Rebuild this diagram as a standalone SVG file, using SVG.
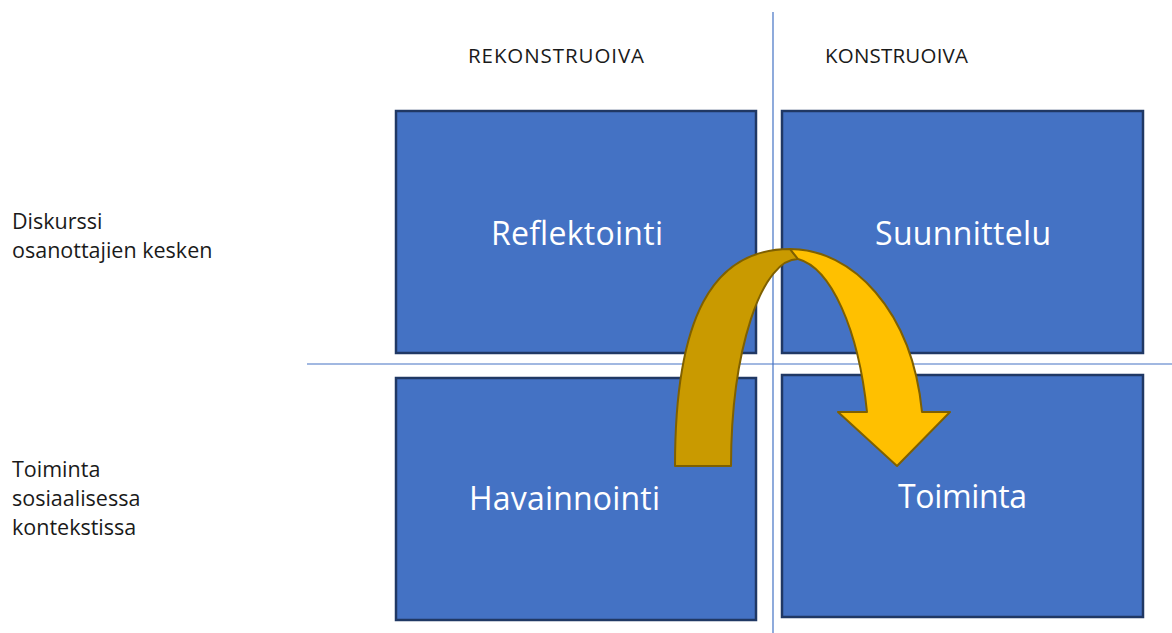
<svg xmlns="http://www.w3.org/2000/svg" width="1172" height="633" viewBox="0 0 1172 633">
<style>
.box{fill:#4472C4;stroke:#203864;stroke-width:2.5}
.axis{stroke:#4472C4;stroke-width:1.2;fill:none}
.lbl{font-family:"Open Sans","Liberation Sans",sans-serif;fill:#1a1a1a}
.hdr{font-size:20.5px}
.side{font-size:21.5px}
.in{font-family:"Open Sans","Liberation Sans",sans-serif;font-size:32px;fill:#ffffff}
.dark{fill:#C99A00;stroke:#7F6000;stroke-width:2;stroke-linejoin:round}
.light{fill:#FFC000;stroke:#7F6000;stroke-width:2;stroke-linejoin:round}
</style>
<rect width="1172" height="633" fill="#ffffff"/>
<g id="headers">
<text class="lbl hdr" x="468" y="63" textLength="176">REKONSTRUOIVA</text>
<text class="lbl hdr" x="825" y="63" textLength="143">KONSTRUOIVA</text>
</g>
<g id="side-labels">
<text class="lbl side" x="12" y="229">Diskurssi</text>
<text class="lbl side" x="12" y="258">osanottajien kesken</text>
<text class="lbl side" x="12" y="477">Toiminta</text>
<text class="lbl side" x="12" y="506">sosiaalisessa</text>
<text class="lbl side" x="12" y="535">kontekstissa</text>
</g>
<g id="node-reflektointi">
<rect class="box" x="396" y="111" width="360" height="242"/>
<text class="in" x="491" y="245" textLength="172">Reflektointi</text>
</g>
<g id="node-suunnittelu">
<rect class="box" x="782" y="111" width="361" height="242"/>
<text class="in" x="875" y="245" textLength="176">Suunnittelu</text>
</g>
<g id="node-havainnointi">
<rect class="box" x="396" y="378" width="360" height="242"/>
<text class="in" x="469" y="510" textLength="191">Havainnointi</text>
</g>
<g id="node-toiminta">
<rect class="box" x="782" y="375" width="361" height="242"/>
<text class="in" x="898" y="508" textLength="129">Toiminta</text>
</g>
<g id="connectors">
<line class="axis" x1="773" y1="12" x2="773" y2="633"/>
<line class="axis" x1="307" y1="364" x2="1172" y2="364"/>
<path class="dark" d="M675,466 C675,318 712,249 790,249 L798,259 A67,208 0 0 0 731,466 Z"/>
<path class="light" d="M790,249 C852,249 912,310 922,412 L950,412 L897,466 L838,412 L867,412 A80,208 0 0 0 798,259 Z"/>
</g>
</svg>
